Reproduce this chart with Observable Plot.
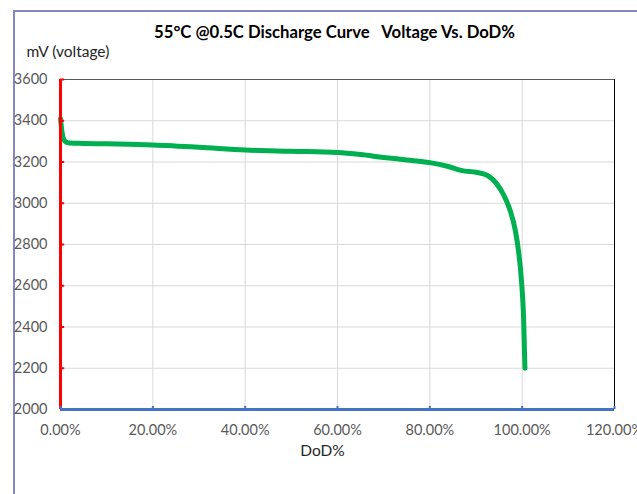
<!DOCTYPE html>
<html>
<head>
<meta charset="utf-8">
<script src="https://cdn.jsdelivr.net/npm/d3@7"></script>
<script src="https://cdn.jsdelivr.net/npm/@observablehq/plot@0.6"></script>
<style>
  html, body { margin: 0; padding: 0; background: #fff; }
  #wrap { position: relative; width: 637px; height: 494px; overflow: hidden; }
  #frame { position: absolute; left: 13px; top: 10px; right: -5px; bottom: -5px;
           border-left: 2px solid #8586c4; border-top: 2px solid #8586c4; }
  #chart { position: absolute; left: 0; top: 0; }
</style>
</head>
<body>
<div id="wrap"><div id="frame"></div><div id="chart"></div></div>
<script>
const titleText = "55°C @0.5C Discharge Curve   Voltage Vs. DoD%";
const yLabel = "mV (voltage)";
const xLabel = "DoD%";
const xTicks = [0, 20, 40, 60, 80, 100, 120];
const yTicks = [2000, 2200, 2400, 2600, 2800, 3000, 3200, 3400, 3600];
const dod = [0, 0.3, 0.7, 1.3, 2, 5, 10, 20, 30, 40, 50, 60, 65, 70, 75, 80, 84, 87, 90, 92.4, 94.5, 96, 97.4, 98.5, 99.2, 99.9, 100.3, 100.6];
const mv  = [3410, 3350, 3310, 3296, 3292, 3290, 3288, 3283, 3272, 3258, 3252, 3246, 3236, 3222, 3210, 3197, 3178, 3158, 3150, 3136, 3094, 3040, 2965, 2870, 2770, 2610, 2450, 2200];

const data = dod.map((d, i) => ({dod: d, mv: mv[i]}));
const fmt = d => d.toFixed(2) + "%";

const chart = Plot.plot({
  width: 637,
  height: 494,
  marginLeft: 60,
  marginRight: 23,
  marginTop: 79,
  marginBottom: 85,
  x: {domain: [0, 120]},
  y: {domain: [2000, 3600]},
  style: {fontFamily: "Lato, 'Open Sans', sans-serif", fontSize: "14.5px", background: "transparent", overflow: "visible"},
  marks: [
    Plot.gridY(yTicks, {stroke: "#d9d9d9", strokeOpacity: 1}),
    Plot.gridX(xTicks, {stroke: "#d9d9d9", strokeOpacity: 1}),
    Plot.ruleY([3600], {stroke: "#595959", strokeWidth: 1}),
    Plot.ruleX([120], {stroke: "#000", strokeWidth: 1}),
    Plot.axisY(yTicks, {tickSize: 0, tickPadding: 13, tickFormat: d => String(d), fill: "#595959", label: null}),
    Plot.axisX(xTicks, {tickSize: 0, tickPadding: 15, tickFormat: fmt, fill: "#595959", label: null}),
    Plot.line(data, {x: "dod", y: "mv", stroke: "#00b050", strokeWidth: 5, curve: "monotone-x", strokeLinecap: "round", strokeLinejoin: "round"}),
    Plot.ruleX([0], {stroke: "#ff0000", strokeWidth: 3}),
    Plot.ruleY(yTicks, {x1: 0, x2: 0.9, stroke: "#ff0000", strokeWidth: 2}),
    Plot.ruleY([2000], {stroke: "#4472c4", strokeWidth: 3}),
    Plot.ruleX(xTicks, {y1: 2000, y2: 2015, stroke: "#4472c4", strokeWidth: 2}),
    Plot.text([titleText], {frameAnchor: "top", dx: -3, dy: -53, fontWeight: "bold", fontSize: 16.7, fill: "#000"}),
    Plot.text([yLabel], {frameAnchor: "top-left", dx: -34, dy: -34, fontSize: 15.5, fill: "#262626"}),
    Plot.text([xLabel], {frameAnchor: "bottom", dx: -15, dy: 46, fontSize: 15.5, fill: "#262626"})
  ]
});
document.getElementById("chart").appendChild(chart);
</script>
</body>
</html>
